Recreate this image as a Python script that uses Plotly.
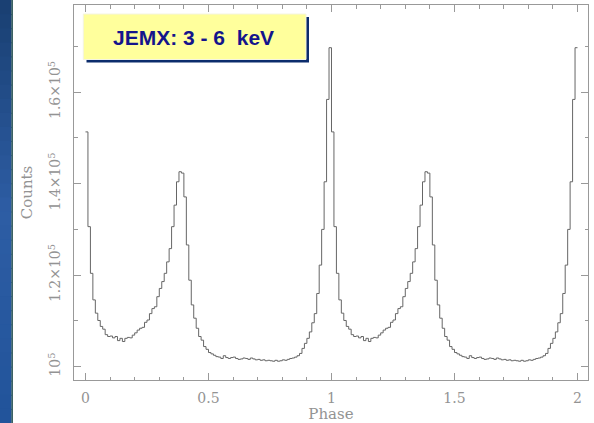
import plotly.graph_objects as go

# One pulse cycle, 100 phase bins (counts)
profile = [
    151300, 130600, 120400, 114600, 111700, 110100, 108800, 108200, 107000, 106600,
    106700, 106300, 106600, 105700, 106200, 105500, 106200, 106400, 106300, 106900,
    107400, 108000, 108400, 108600, 109700, 110200, 111600, 112700, 113100, 115300,
    117100, 118600, 120400, 122900, 125800, 130600, 135300, 140400, 142600, 142300,
    137100, 126600, 118900, 113500, 110600, 108400, 106600, 105800, 104400, 103800,
    103100, 102800, 102500, 102200, 102100, 101800, 102400, 102000, 101800, 102000,
    102100, 101800, 101600, 101700, 101900, 101800, 101600, 101900, 101700, 101500,
    101600, 101400, 101500, 101300, 101400, 101300, 101200, 101400, 101200, 101300,
    101500, 101400, 101600, 101800, 101900, 102100, 102400, 102900, 104000, 105100,
    106200, 107600, 109600, 111600, 116000, 122200, 130000, 140400, 158400, 169700,
]
n_bins = 100
n_cycles = 2
x_ticks = [0, 0.5, 1, 1.5, 2]
x_ticktext = ["0", "0.5", "1", "1.5", "2"]
y_ticks = [100000, 120000, 140000, 160000]
y_ticktext = ["10<sup>5</sup>", "1.2\u00d710<sup>5</sup>", "1.4\u00d710<sup>5</sup>", "1.6\u00d710<sup>5</sup>"]
label_text = "JEMX: 3 - 6 \u00a0keV"

counts = profile * n_cycles
edges = [i / n_bins for i in range(n_bins * n_cycles + 1)]
ys = counts + [counts[-1]]

W, H = 594, 423
ml, mr, mt, mb = 74, 6, 5, 43
pw, ph = W - ml - mr, H - mt - mb

def px(x):
    return (x - ml) / pw

def py(y):
    return (H - mb - y) / ph

axis_col = "#999999"
txt_col = "#939393"
fnt = "DejaVu Serif"

fig = go.Figure()
fig.add_trace(go.Scatter(x=edges, y=ys, mode="lines", line=dict(shape="hv", color="#666666", width=1),
                         hoverinfo="skip", showlegend=False))

shapes = []
# left decorative blue strip (vertical gradient)
top_c = (26, 64, 115)
mid_c = (46, 94, 165)
bot_c = (34, 84, 155)
nb = 30
for k in range(nb):
    t = k / (nb - 1)
    if t < 0.5:
        a, b, s = top_c, mid_c, t / 0.5
    else:
        a, b, s = mid_c, bot_c, (t - 0.5) / 0.5
    c = tuple(int(a[j] + (b[j] - a[j]) * s) for j in range(3))
    y0 = k * H / nb
    y1 = (k + 1) * H / nb + 1
    shapes.append(dict(type="rect", xref="paper", yref="paper", x0=px(0), x1=px(11.5), y0=py(y1), y1=py(y0),
                       fillcolor="rgb(%d,%d,%d)" % c, line=dict(width=0), layer="above"))
shapes.append(dict(type="rect", xref="paper", yref="paper", x0=px(11.5), x1=px(12.8), y0=py(H), y1=py(0),
                   fillcolor="#0b3a3a", line=dict(width=0), layer="above"))
# label box shadow + box
shapes.append(dict(type="rect", xref="paper", yref="paper", x0=px(86.5), x1=px(309), y0=py(62.5), y1=py(17),
                   fillcolor="#0c2c6c", line=dict(width=0), layer="above"))
shapes.append(dict(type="rect", xref="paper", yref="paper", x0=px(83.3), x1=px(306), y0=py(59.5), y1=py(14),
                   fillcolor="#ffff9c", line=dict(width=1, color="#f4f4e0"), layer="above"))

fig.update_layout(
    width=W, height=H, margin=dict(l=ml, r=mr, t=mt, b=mb),
    paper_bgcolor="white", plot_bgcolor="white",
    shapes=shapes,
    annotations=[dict(text="<b>" + label_text + "</b>", xref="paper", yref="paper", x=px(193), y=py(37.5),
                      showarrow=False, xanchor="center", yanchor="middle",
                      font=dict(family="Liberation Sans", size=21, color="#14148c"))],
    font=dict(family=fnt, color=txt_col, size=14),
)
fig.update_xaxes(range=[-0.0467, 2.0427], tickvals=x_ticks, ticktext=x_ticktext,
                 ticks="inside", ticklen=7, tickcolor=axis_col, tickwidth=1,
                 minor=dict(ticks="inside", dtick=0.1, ticklen=3.5, tickcolor=axis_col, tickwidth=1),
                 showline=True, linecolor=axis_col, linewidth=1, mirror="ticks",
                 showgrid=False, zeroline=False, ticklabelstandoff=5,
                 tickfont=dict(family=fnt, size=14, color=txt_col),
                 title=dict(text="Phase", standoff=0, font=dict(family=fnt, size=15, color=txt_col)))
fig.update_yaxes(range=[97096, 179026], tickvals=y_ticks, ticktext=y_ticktext, tickangle=-90,
                 ticks="inside", ticklen=7, tickcolor=axis_col, tickwidth=1,
                 minor=dict(ticks="inside", dtick=10000, ticklen=3.5, tickcolor=axis_col, tickwidth=1),
                 showline=True, linecolor=axis_col, linewidth=1, mirror="ticks",
                 showgrid=False, zeroline=False, ticklabelstandoff=7,
                 tickfont=dict(family=fnt, size=14, color=txt_col),
                 title=dict(text="Counts", standoff=9, font=dict(family=fnt, size=15, color=txt_col)))

fig.write_html("out.html")
